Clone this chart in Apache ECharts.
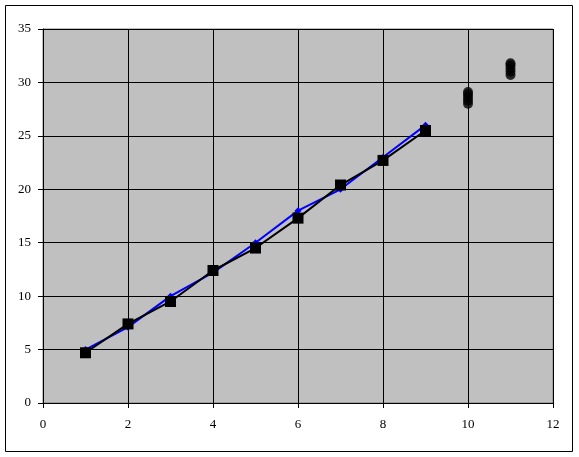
<!DOCTYPE html>
<html><head><meta charset="utf-8">
<script src="https://cdn.jsdelivr.net/npm/echarts@6/dist/echarts.min.js"></script>
<style>html,body{margin:0;padding:0;background:#fff}#c{width:579px;height:457px}</style>
</head><body><div id="c"></div>
<script>
const xTicks = [0, 2, 4, 6, 8, 10, 12];
const yTicks = [0, 5, 10, 15, 20, 25, 30, 35];
const xs = [1, 2, 3, 4, 5, 6, 7, 8, 9];
const blueVals = [5.0, 7.1, 10.0, 12.2, 15.0, 18.0, 20.0, 23.0, 26.0];
const blackVals = [4.7, 7.4, 9.5, 12.4, 14.5, 17.3, 20.4, 22.7, 25.5];
const dotsX10 = [28.0, 28.3, 28.6, 28.9, 29.1];
const dotsX11 = [30.7, 31.0, 31.3, 31.6, 31.8];

const chart = echarts.init(document.getElementById('c'), null, {renderer: 'canvas'});
const font = {fontFamily: 'Liberation Serif', fontSize: 13, color: '#000'};
chart.setOption({
  animation: false,
  backgroundColor: '#fff',
  graphic: [{type: 'rect', shape: {x: 5.5, y: 5.5, width: 567, height: 446}, style: {fill: 'none', stroke: '#000', lineWidth: 1}, z: -10}],
  grid: {left: 43, right: 26, top: 29, bottom: 54, show: true, backgroundColor: '#c0c0c0', borderColor: '#808080', borderWidth: 1},
  xAxis: {type: 'value', min: 0, max: 12, interval: 2,
    axisLine: {show: true, onZero: false, lineStyle: {color: '#000', width: 1}},
    axisTick: {show: true, length: 5, lineStyle: {color: '#000'}},
    axisLabel: Object.assign({margin: 15, formatter: v => xTicks.includes(v) ? String(v) : ''}, font),
    splitLine: {show: true, lineStyle: {color: '#000', width: 1}}},
  yAxis: {type: 'value', min: 0, max: 35, interval: 5,
    axisLine: {show: true, onZero: false, lineStyle: {color: '#000', width: 1}},
    axisTick: {show: true, length: 5, lineStyle: {color: '#000'}},
    axisLabel: Object.assign({margin: 12, formatter: v => yTicks.includes(v) ? String(v) : ''}, font),
    splitLine: {show: true, lineStyle: {color: '#000', width: 1}}},
  series: [
    {type: 'line', data: xs.map((x, i) => [x, blueVals[i]]), symbol: 'diamond', symbolSize: 7,
      lineStyle: {color: '#0000ff', width: 2}, itemStyle: {color: '#0000ff'}, z: 2},
    {type: 'line', data: xs.map((x, i) => [x, blackVals[i]]), symbol: 'rect', symbolSize: 11,
      lineStyle: {color: '#000', width: 2}, itemStyle: {color: '#000'}, z: 3},
    {type: 'scatter', data: dotsX10.map(v => [10, v]).concat(dotsX11.map(v => [11, v])), symbol: 'circle', symbolSize: 10,
      itemStyle: {color: '#000'}, z: 4}
  ]
});
</script></body></html>
